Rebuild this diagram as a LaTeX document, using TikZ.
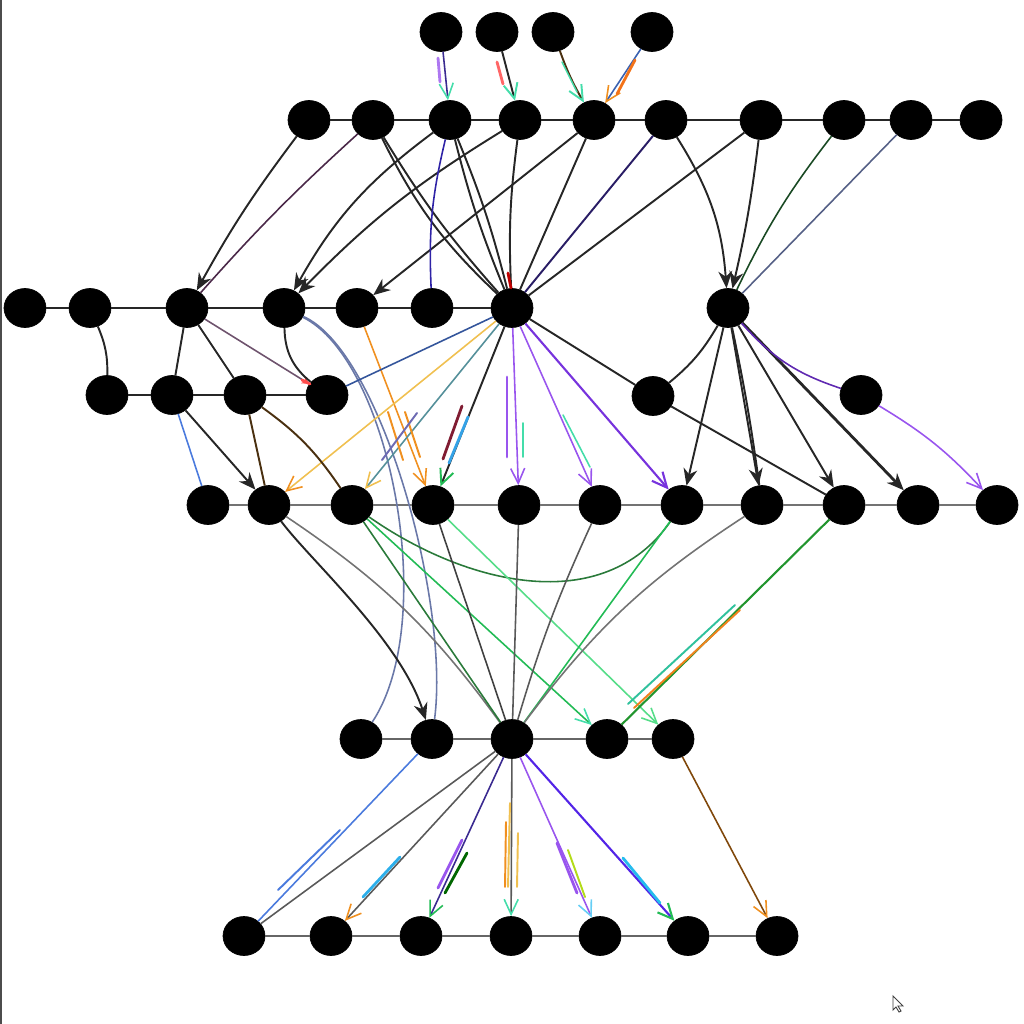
\documentclass[tikz,border=0pt]{standalone}
\usepackage{tikz}
\usetikzlibrary{shapes.geometric, arrows.meta}

\definecolor{purp}{HTML}{7733DD}
\definecolor{lpurp}{HTML}{9955EE}
\definecolor{dpurp}{HTML}{4A2848}
\definecolor{navy}{HTML}{3A2A90}
\definecolor{grn}{HTML}{22BB55}
\definecolor{dgrn}{HTML}{2A7A3A}
\definecolor{lgrn}{HTML}{55DD88}
\definecolor{org}{HTML}{F09020}
\definecolor{yel}{HTML}{F0C050}
\definecolor{blu}{HTML}{4A7ADD}
\definecolor{slate}{HTML}{6A78A8}
\definecolor{tl}{HTML}{55909A}
\definecolor{brn}{HTML}{4A3010}
\definecolor{mint}{HTML}{44DDAA}

\tikzset{
	dot/.style={ellipse, fill=black, draw=black, minimum width=0.84cm, minimum height=0.78cm, inner sep=0pt},
	rowline/.style={draw=black!70, line width=0.9pt},
	conn/.style={draw=black!85, line width=1.1pt},
	cconn/.style={line width=0.9pt},
	stk/.style={-{Stealth[length=3.4mm, width=2.8mm, inset=1.1mm]}},
	barb/.style={-{Straight Barb[length=3mm, width=2.8mm, color=#1]}},
	ghost/.style={line width=1.6pt, line cap=round},
}

\begin{document}
\begin{tikzpicture}[x=0.02cm, y=-0.02cm]
	\useasboundingbox (0,0) rectangle (1024,1024);
	\draw[black!70, line width=1pt] (1,0) -- (1,1024);

	\node[dot] (T1) at (441,32) {};
	\node[dot] (T2) at (497,32) {};
	\node[dot] (T3) at (553,32) {};
	\node[dot] (T4) at (652,32) {};

	\node[dot] (U1) at (309,120) {};
	\node[dot] (U2) at (373,120) {};
	\node[dot] (U3) at (450,120) {};
	\node[dot] (U4) at (520,120) {};
	\node[dot] (U5) at (594,120) {};
	\node[dot] (U6) at (666,120) {};
	\node[dot] (U7) at (761,120) {};
	\node[dot] (U8) at (844,120) {};
	\node[dot] (U9) at (911,120) {};
	\node[dot] (U10) at (981,120) {};

	\node[dot] (V1) at (25,308) {};
	\node[dot] (V2) at (90,308) {};
	\node[dot] (V3) at (187,308) {};
	\node[dot] (V4) at (284,308) {};
	\node[dot] (V5) at (357,308) {};
	\node[dot] (V6) at (432,308) {};
	\node[dot] (V7) at (512,308) {};
	\node[dot] (V8) at (728,308) {};

	\node[dot] (W1) at (107,395) {};
	\node[dot] (W2) at (172,395) {};
	\node[dot] (W3) at (245,395) {};
	\node[dot] (W4) at (327,395) {};
	\node[dot] (W5) at (653,396) {};
	\node[dot] (W6) at (861,395) {};

	\node[dot] (X1) at (208,505) {};
	\node[dot] (X2) at (269,505) {};
	\node[dot] (X3) at (352,505) {};
	\node[dot] (X4) at (433,505) {};
	\node[dot] (X5) at (519,505) {};
	\node[dot] (X6) at (600,505) {};
	\node[dot] (X7) at (682,505) {};
	\node[dot] (X8) at (762,505) {};
	\node[dot] (X9) at (844,505) {};
	\node[dot] (X10) at (918,505) {};
	\node[dot] (X11) at (997,505) {};

	\node[dot] (Y1) at (361,739) {};
	\node[dot] (Y2) at (432,739) {};
	\node[dot] (Y3) at (512,739) {};
	\node[dot] (Y4) at (607,739) {};
	\node[dot] (Y5) at (673,739) {};

	\node[dot] (Z1) at (244,936) {};
	\node[dot] (Z2) at (331,936) {};
	\node[dot] (Z3) at (421,936) {};
	\node[dot] (Z4) at (511,936) {};
	\node[dot] (Z5) at (600,936) {};
	\node[dot] (Z6) at (688,936) {};
	\node[dot] (Z7) at (777,936) {};

	% rows
	\draw[rowline, black!85] (U1) -- (U2) -- (U3) -- (U4) -- (U5) -- (U6) -- (U7) -- (U8) -- (U9) -- (U10);
	\draw[rowline, black!85] (V1) -- (V2) -- (V3) -- (V4) -- (V5) -- (V6) -- (V7);
	\draw[rowline, black!85] (W1) -- (W2) -- (W3) -- (W4);
	\draw[rowline, black!55] (X1) -- (X2) -- (X3) -- (X4) -- (X5) -- (X6) -- (X7) -- (X8) -- (X9) -- (X10) -- (X11);
	\draw[rowline, black!60] (Y1) -- (Y2) -- (Y3) -- (Y4) -- (Y5);
	\draw[rowline, black!60] (Z1) -- (Z2) -- (Z3) -- (Z4) -- (Z5) -- (Z6) -- (Z7);

	% top
	\draw[cconn, navy, barb=mint] (T1) -- (U3);
	\draw[conn, barb=mint] (T2) -- (U4);
	\draw[conn, brn, barb=mint] (T3) to[bend right=5] (U5);
	\draw[cconn, blu!80!black, barb=org] (T4) -- (U5);

	% first row down
	\draw[conn, stk] (U1) to[bend right=4] (V3);
	\draw[cconn, dpurp] (U2) to[bend right=3] (V3);
	\draw[conn] (U2) to[bend right=10] (V7);
	\draw[conn] (U2) to[bend right=5] (V7);
	\draw[conn, stk] (U3) to[bend right=12] (V4);
	\draw[conn, stk] (U4) to[bend right=7] (V4);
	\draw[conn, stk] (U5) -- (V5);
	\draw[cconn, navy!80!blue] (U3) to[bend right=8] (V6);
	\draw[conn] (U3) to[bend right=4] (V7);
	\draw[conn] (U3) to[bend left=4] (V7);
	\draw[conn] (U4) to[bend right=5] (V7);
	\draw[conn] (U5) -- (V7);
	\draw[conn, navy!70!black] (U6) -- (V7);
	\draw[conn] (U7) -- (V7);
	\draw[conn, stk] (U6) to[bend left=14] (V8);
	\draw[conn, stk] (U7) to[bend left=3] (V8);
	\draw[cconn, dgrn!60!black] (U8) to[bend right=6] (V8);
	\draw[cconn, slate!80!black] (U9) -- (V8);

	% second row down
	\draw[conn] (V2) to[bend left=12] (W1);
	\draw[conn] (V3) -- (W2);
	\draw[conn] (V3) -- (W3);
	\draw[cconn, dpurp!80!white, -{Stealth[length=1.5mm, width=1.5mm, color=red!70]}] (V3) -- (W4);
	\draw[conn] (V4) to[bend right=25] (W4);
	\draw[cconn, slate] (V4) .. controls (390,360) and (440,620) .. (Y1);
	\draw[cconn, slate] (V4) .. controls (380,350) and (450,600) .. (Y2);
	\draw[cconn, org, barb=org] (V5) -- (X4);
	\draw[cconn, blu!70!black] (V7) -- (W4);
	\draw[cconn, yel, barb=org] (V7) -- (X2);
	\draw[cconn, tl, barb=yel] (V7) -- (X3);
	\draw[conn, barb=grn] (V7) -- (X4);
	\draw[cconn, lpurp, barb=lpurp] (V7) -- (X5);
	\draw[cconn, lpurp, barb=lpurp] (V7) -- (X6);
	\draw[cconn, purp, line width=1.2pt, barb=purp] (V7) -- (X7);
	\draw[conn] (V7) -- (W5);
	\draw[conn] (W5) -- (X9);
	\draw[conn] (V8) to[bend left=10] (W5);
	\draw[conn, stk] (V8) -- (X7);
	\draw[conn, stk] (V8) -- (X8);
	\draw[conn] (V8) to[bend left=2] (X8);
	\draw[conn, stk] (V8) -- (X9);
	\draw[conn, stk, line width=1.6pt] (V8) -- (X10);
	\draw[cconn, purp!80!black] (V8) to[bend right=15] (W6);
	\draw[cconn, lpurp, barb=lpurp] (W6) to[bend left=8] (X11);

	% third row down
	\draw[cconn, blu] (W2) -- (X1);
	\draw[conn, stk] (W2) -- (X2);
	\draw[conn, brn] (W3) -- (X2);
	\draw[conn, brn] (W3) to[bend left=10] (X3);

	% fourth row down
	\draw[conn, stk] (X2) .. controls (310,560) and (400,640) .. (Y2);
	\draw[cconn, black!55] (X2) to[bend left=10] (Y3);
	\draw[cconn, dgrn] (X3) -- (Y3);
	\draw[cconn, dgrn] (X3) to[out=-35, in=-125] (X7);
	\draw[cconn, grn, barb=mint] (X3) -- (Y4);
	\draw[cconn, lgrn, barb=lgrn] (X4) -- (Y5);
	\draw[cconn, black!75] (X4) -- (Y3);
	\draw[cconn, black!65] (X5) -- (Y3);
	\draw[cconn, black!65] (X6) to[bend right=4] (Y3);
	\draw[cconn, grn] (X7) -- (Y3);
	\draw[cconn, black!55] (X8) to[bend right=10] (Y3);
	\draw[cconn, dgrn!80!green, line width=1.2pt] (X9) -- (Y4);
	\draw[cconn, brn!70!orange, barb=org] (Y5) -- (Z7);

	% last row down
	\draw[cconn, blu] (Y2) -- (Z1);
	\draw[cconn, black!65] (Y3) -- (Z1);
	\draw[cconn, black!65, barb=org] (Y3) -- (Z2);
	\draw[cconn, navy, barb=grn] (Y3) -- (Z3);
	\draw[cconn, black!65, barb=mint] (Y3) -- (Z4);
	\draw[cconn, lpurp, barb=cyan!60] (Y3) -- (Z5);
	\draw[cconn, purp!70!blue, line width=1.2pt, barb=grn] (Y3) -- (Z6);

	% ghost strokes
	\draw[ghost, lpurp!80] (438,58) -- (440,82);
	\draw[ghost, red!60] (497,62) -- (503,84);
	\draw[ghost, mint, line width=0.8pt] (562,62) -- (577,92);
	\draw[ghost, org!80!red] (635,60) -- (617,94);
	\draw[ghost, red!75!black] (508,273) -- (511,288);
	\draw[ghost, red!70] (302,380) -- (310,384);
	\draw[ghost, dpurp!70!red] (462,406) -- (443,459);
	\draw[ghost, blu!70!cyan] (468,417) -- (449,463);
	\draw[ghost, lpurp] (507,377) -- (507,457);
	\draw[ghost, mint, line width=0.9pt] (523,423) -- (523,457);
	\draw[ghost, mint, line width=0.9pt] (563,415) -- (590,467);
	\draw[ghost, org, line width=1.1pt] (388,412) -- (403,460);
	\draw[ghost, org, line width=1.1pt] (405,412) -- (420,457);
	\draw[ghost, slate!80!purp, line width=1.1pt] (417,413) -- (382,460);
	\draw[ghost, org!90!red, line width=1.1pt] (634,708) -- (740,610);
	\draw[ghost, mint!70!teal, line width=1.1pt] (628,704) -- (735,605);
	\draw[ghost, blu, line width=1.1pt] (278,890) -- (340,830);
	\draw[ghost, blu!60!cyan] (400,857) -- (363,897);
	\draw[ghost, lpurp] (462,840) -- (438,888);
	\draw[ghost, black!60!green] (467,853) -- (445,893);
	\draw[ghost, org, line width=1.1pt] (506,822) -- (505,887);
	\draw[ghost, yel, line width=1.1pt] (510,803) -- (508,887);
	\draw[ghost, yel, line width=1.1pt] (518,833) -- (517,887);
	\draw[ghost, lpurp] (557,843) -- (577,893);
	\draw[ghost, yellow!70!green, line width=1.1pt] (568,850) -- (585,897);
	\draw[ghost, blu!50!cyan] (623,858) -- (660,903);

	% pointer
	\draw[black!75, fill=white, line width=0.5pt] (893,996) -- (893,1010) -- (896,1007) -- (899,1012) -- (901,1011) -- (898,1006) -- (903,1006) -- cycle;
\end{tikzpicture}
\end{document}
